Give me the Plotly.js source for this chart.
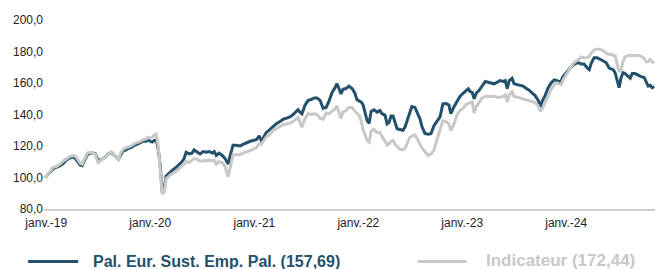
<!DOCTYPE html>
<html>
<head>
<meta charset="utf-8">
<script src="https://cdn.plot.ly/plotly-3.0.1.min.js"></script>
<style>html,body{margin:0;padding:0;background:#fff;}#chart{width:655px;height:269px;}</style>
</head>
<body>
<div id="chart"></div>
<script>
const dates = [
"2018-12-28","2019-01-04","2019-01-15","2019-01-25","2019-02-05","2019-02-19","2019-03-02","2019-03-12","2019-03-26","2019-04-06",
"2019-04-13","2019-04-23","2019-04-30","2019-05-07","2019-05-14","2019-05-25","2019-06-04","2019-06-15","2019-06-22","2019-07-02",
"2019-07-09","2019-07-20","2019-07-30","2019-08-06","2019-08-17","2019-08-24","2019-09-04","2019-09-11","2019-09-21","2019-09-28",
"2019-10-09","2019-10-16","2019-10-26","2019-11-06","2019-11-16","2019-11-27","2019-12-07","2019-12-18","2019-12-25","2020-01-01",
"2020-01-08","2020-01-15","2020-01-22","2020-01-29","2020-02-05","2020-02-12","2020-02-19","2020-02-26","2020-03-08","2020-03-18",
"2020-03-29","2020-04-08","2020-04-19","2020-04-29","2020-05-06","2020-05-17","2020-05-27","2020-06-03","2020-06-14","2020-06-24",
"2020-07-05","2020-07-16","2020-07-26","2020-08-06","2020-08-13","2020-08-20","2020-08-30","2020-09-10","2020-09-20","2020-10-01",
"2020-10-08","2020-10-18","2020-10-29","2020-11-12","2020-11-22","2020-12-03","2020-12-17","2020-12-27","2021-01-08","2021-01-18",
"2021-01-25","2021-02-01","2021-02-11","2021-02-25","2021-03-08","2021-03-18","2021-04-01","2021-04-12","2021-04-22","2021-05-06",
"2021-05-17","2021-05-27","2021-06-03","2021-06-10","2021-06-17","2021-06-28","2021-07-09","2021-07-19","2021-07-30","2021-08-09",
"2021-08-20","2021-08-30","2021-09-10","2021-09-20","2021-10-01","2021-10-11","2021-10-18","2021-10-25","2021-11-01","2021-11-08",
"2021-11-19","2021-11-29","2021-12-10","2021-12-20","2021-12-27","2022-01-04","2022-01-11","2022-01-18","2022-01-25","2022-02-01",
"2022-02-08","2022-02-15","2022-02-25","2022-03-08","2022-03-18","2022-03-25","2022-04-05","2022-04-12","2022-04-19","2022-04-26",
"2022-05-03","2022-05-10","2022-05-17","2022-05-27","2022-06-07","2022-06-14","2022-06-21","2022-07-01","2022-07-08","2022-07-19",
"2022-07-30","2022-08-06","2022-08-13","2022-08-23","2022-09-03","2022-09-13","2022-09-24","2022-10-04","2022-10-15","2022-10-25",
"2022-11-05","2022-11-15","2022-11-22","2022-12-03","2022-12-13","2022-12-24","2023-01-04","2023-01-15","2023-01-22","2023-01-29",
"2023-02-05","2023-02-12","2023-02-19","2023-03-02","2023-03-12","2023-03-23","2023-04-02","2023-04-13","2023-04-23","2023-05-04",
"2023-05-14","2023-05-25","2023-06-01","2023-06-08","2023-06-15","2023-06-25","2023-07-02","2023-07-13","2023-07-23","2023-08-03",
"2023-08-14","2023-08-24","2023-09-04","2023-09-14","2023-09-25","2023-10-02","2023-10-09","2023-10-19","2023-10-30","2023-11-09",
"2023-11-20","2023-11-30","2023-12-07","2023-12-14","2023-12-21","2024-01-01","2024-01-11","2024-01-22","2024-02-01","2024-02-12",
"2024-02-22","2024-03-04","2024-03-15","2024-03-22","2024-03-29","2024-04-08","2024-04-19","2024-04-29","2024-05-10","2024-05-20",
"2024-05-31","2024-06-07","2024-06-14","2024-06-21","2024-06-28","2024-07-05","2024-07-12","2024-07-19","2024-07-26","2024-08-06",
"2024-08-13","2024-08-20","2024-08-30","2024-09-10","2024-09-20","2024-10-01","2024-10-08","2024-10-15","2024-10-22","2024-10-29",
"2024-11-05"
];
const fundValues = [
100.0,101.5,104.0,105.5,106.5,107.5,109.0,111.0,112.5,113.0,
112.0,110.0,108.0,107.5,110.5,114.5,115.5,115.5,115.0,111.0,
111.0,112.0,113.5,115.0,116.0,115.0,113.0,111.5,115.0,117.0,
117.5,118.5,119.0,120.5,121.0,122.0,123.0,123.0,124.0,123.0,
122.5,123.5,124.0,118.0,108.0,91.0,93.0,101.0,103.0,104.5,
106.0,107.5,109.5,112.0,116.0,115.0,115.5,117.5,116.0,115.0,
116.5,116.0,116.5,115.5,116.5,114.0,115.5,114.0,112.0,108.5,
114.0,120.5,120.5,120.0,121.0,122.0,123.0,123.5,124.0,126.5,
123.5,125.0,128.5,130.5,132.5,134.0,135.5,137.0,137.5,138.5,
140.0,141.5,143.0,141.5,140.5,146.0,149.0,149.5,150.5,150.5,
149.0,144.0,144.5,148.5,154.0,157.0,159.5,156.5,153.0,156.0,
156.5,158.0,156.5,153.5,149.5,148.5,148.0,146.0,141.0,136.0,
134.5,142.0,143.0,141.5,142.5,140.5,139.5,134.0,135.0,139.0,
139.0,134.5,131.0,130.5,130.0,132.0,136.0,142.5,145.0,144.5,
140.0,137.0,132.0,128.0,127.5,127.8,133.0,136.0,138.5,146.8,
147.0,146.0,140.5,145.0,148.5,151.5,153.5,155.5,156.3,154.5,
154.0,150.0,153.5,155.5,158.5,161.0,160.5,160.0,159.5,160.5,
161.5,161.0,161.5,156.5,161.5,163.0,159.5,159.0,158.5,158.0,
156.5,155.5,153.5,152.0,149.0,144.8,148.5,152.0,157.0,160.0,
162.0,161.5,160.5,161.5,164.0,166.5,168.5,171.0,172.2,173.0,
172.0,172.0,169.5,168.5,172.5,176.0,176.0,175.0,174.0,173.0,
169.5,169.0,168.5,166.5,161.0,157.0,163.5,166.5,166.0,164.5,
163.0,166.0,166.0,165.0,164.0,163.5,160.5,158.0,158.5,157.0,
157.69
];
const indexValues = [
99.8,101.5,104.5,106.5,107.0,108.5,110.5,112.0,113.5,114.0,
113.5,111.0,109.0,108.5,111.5,115.5,116.0,115.5,114.5,109.5,
110.5,112.0,113.5,115.0,116.0,115.0,113.0,111.5,116.0,118.0,
119.0,119.5,120.0,121.5,122.0,123.0,124.0,124.5,125.5,125.0,
125.5,127.0,127.5,120.0,106.0,89.5,90.5,99.0,101.0,102.5,
103.5,105.0,107.0,108.5,110.0,109.5,111.0,112.0,111.5,110.5,
110.5,111.0,111.0,110.5,111.0,108.5,110.0,109.5,107.0,100.5,
107.0,114.5,114.5,114.5,115.5,116.0,117.0,118.0,119.0,121.5,
121.0,123.0,125.5,127.5,130.0,131.0,132.5,133.5,134.0,134.5,
135.5,137.0,138.0,135.0,132.0,137.5,140.5,140.0,140.5,140.0,
137.5,137.0,141.0,140.5,142.0,143.5,145.5,141.0,137.5,141.5,
142.5,144.5,144.5,142.0,140.5,139.5,136.0,130.0,127.0,123.5,
122.5,129.5,130.5,128.5,128.8,126.0,123.0,120.5,121.5,123.0,
123.5,121.0,120.0,118.0,117.5,118.5,121.5,125.5,126.5,127.0,
123.5,121.0,118.5,116.5,114.0,115.0,117.5,124.0,131.0,136.0,
135.5,134.0,129.8,134.0,139.5,142.5,144.0,146.5,147.0,147.5,
148.0,141.0,145.0,147.8,150.5,151.5,151.5,151.5,151.5,151.0,
151.0,151.5,152.5,147.8,152.5,154.5,151.5,151.0,150.5,149.5,
149.0,148.5,148.0,147.5,145.5,142.0,143.5,147.5,152.0,156.0,
159.0,160.0,159.5,159.0,162.0,165.5,168.0,171.5,173.5,174.5,
176.5,176.0,176.0,177.0,179.0,181.0,181.5,181.5,180.5,179.0,
178.0,178.5,177.5,177.5,172.0,167.0,168.5,174.0,176.5,177.5,
177.5,177.5,177.5,177.5,177.0,175.5,173.5,173.5,175.0,174.0,
172.44
];
const seriesNames = ["Pal. Eur. Sust. Emp. Pal. (157,69)", "Indicateur (172,44)"];
const tickDates = ["2019-01-01","2020-01-01","2021-01-01","2022-01-01","2023-01-01","2024-01-01"];
const tickLabels = ["janv.-19","janv.-20","janv.-21","janv.-22","janv.-23","janv.-24"];
const yTicks = [80, 100, 120, 140, 160, 180, 200];

const darkColor = "#23506a";
const greyColor = "#c8c8c8";
const FONT = "Arial, 'Liberation Sans', sans-serif";

const traces = [
  {x: dates, y: fundValues, type: "scatter", mode: "lines", name: seriesNames[0],
   line: {color: darkColor, width: 3}},
  {x: dates, y: indexValues, type: "scatter", mode: "lines", name: seriesNames[1],
   line: {color: greyColor, width: 3}}
];

// Legend drawn in paper coordinates below the plot area
const legY = -0.278;
const shapes = [
  {type: "line", xref: "paper", yref: "paper", x0: -0.026, x1: 0.056, y0: legY, y1: legY,
   line: {color: darkColor, width: 3}},
  {type: "line", xref: "paper", yref: "paper", x0: 0.612, x1: 0.692, y0: legY, y1: legY,
   line: {color: greyColor, width: 3}}
];
const annotations = [
  {xref: "paper", yref: "paper", x: 0.079, y: legY, xanchor: "left", yanchor: "middle",
   text: "<b>" + seriesNames[0] + "</b>", showarrow: false, borderpad: 0,
   font: {family: FONT, size: 16, color: darkColor}},
  {xref: "paper", yref: "paper", x: 0.721, y: -0.270, xanchor: "left", yanchor: "middle",
   text: "<b>" + seriesNames[1] + "</b>", showarrow: false, borderpad: 0,
   font: {family: FONT, size: 17, color: greyColor}}
];

const layout = {
  width: 655, height: 269,
  margin: {l: 44, r: 0, t: 20, b: 60, pad: 0, autoexpand: false},
  paper_bgcolor: "#ffffff", plot_bgcolor: "#ffffff",
  font: {family: FONT, size: 12, color: "#222222"},
  separators: ", ",
  showlegend: false,
  shapes: shapes,
  annotations: annotations,
  xaxis: {
    type: "date", range: ["2018-12-24", "2024-11-08"],
    tickmode: "array", tickvals: tickDates, ticktext: tickLabels,
    showgrid: false, zeroline: false, showline: true, linecolor: "#c4d1d6", linewidth: 1.5,
    ticks: "", ticklabelstandoff: 2,
    tickfont: {family: FONT, size: 12, color: "#222222"}, fixedrange: true
  },
  yaxis: {
    range: [80, 200], tickmode: "array", tickvals: yTicks, tickformat: ".1f",
    showgrid: false, zeroline: false, showline: false, ticks: "",
    tickfont: {family: FONT, size: 12, color: "#222222"}, fixedrange: true
  },
  hovermode: false
};

Plotly.newPlot("chart", traces, layout, {staticPlot: true, displayModeBar: false});
</script>
</body>
</html>
